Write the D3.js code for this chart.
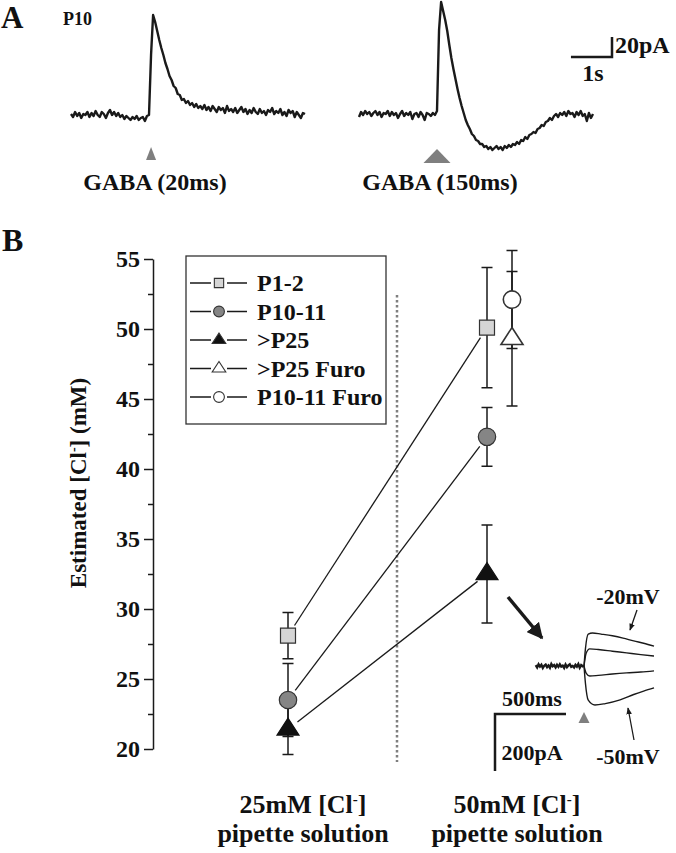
<!DOCTYPE html>
<html>
<head>
<meta charset="utf-8">
<script src="https://cdn.jsdelivr.net/npm/d3@7"></script>
<style>
  body { margin: 0; background: #fff; }
  svg text { font-family: "Liberation Serif", "Times New Roman", serif; font-weight: bold; fill: #111; }
</style>
</head>
<body>
<svg width="676" height="853"></svg>
<script>
// ---- panel A: GABA responses, sampled every 50 ms (pA)
const dt = 0.05;
const trace20ms = [1,-2,3,-1,2,-3,1,0,3,-2,2,-1,4,0,-2,3,1,-3,2,5,0,3,-1,2,-2,0,-4,-1,-3,-5,-2,-4,-1,-5,-3,-2,-6,-1,
  0,60,100,93,84,75,67,60,52,46,39,35,29,27,21,20,15,16,12,14,10,12,8,11,7,9,6,10,5,8,4,9,6,3,8,5,7,2,9,4,6,3,7,2,5,8,3,6,1,5,2,7,3,1,6,2,4,0,5,3,7,1,4,2,6,0,3,-1,5,2,4,-2,3,0,-3,2,1];
const trace150ms = [-2,3,0,4,1,3,-1,2,4,0,3,-2,2,1,4,-1,3,0,2,-3,1,4,-1,2,0,3,-4,1,2,-2,3,0,-5,2,1,-1,2,0,
  4,85,113,104,95,84,70,57,46,36,26,17,9,2,-5,-10,-14,-19,-21,-25,-26,-29,-29,-32,-31,-34,-32,-35,-33,-31,-34,-32,-35,-31,-33,-30,-32,-29,-30,-27,-29,-25,-26,-22,-24,-20,-19,-17,-18,-14,-13,-10,-11,-7,-6,-3,-5,-1,1,-2,2,0,3,-1,4,1,2,-2,3,0,4,-1,1,-6,2,-3,1];

// ---- panel B: estimated [Cl-] (mM), mean and error
const series = ['P1-2', 'P10-11', '>P25', '>P25 Furo', 'P10-11 Furo'];
const cl25 = [28.1, 23.5, 21.4, null, null];
const err25 = [1.65, 2.6, 1.8, null, null];
const cl50 = [50.1, 42.3, 32.5, 49.3, 52.1];
const err50 = [4.3, 2.1, 3.5, 4.8, 3.5];
const pipette = ['25mM', '50mM'];
const yTicks = [20, 25, 30, 35, 40, 45, 50, 55];
const yMinor = [22.5, 27.5, 32.5, 37.5, 42.5, 47.5, 52.5];

// ---- inset: current steps (ms, pA)
const insetBaseline = [3,-5,6,-2,4,-7,1,5,-4,2,-6,7,-1,3,-5,4,-3,6,-2,1,-7,5,-4,2,6,-3,0,-5,4,-2,7,-6,3,-1,2];
const stepMinus20 = [[0,0],[10,60],[30,112],[60,116],[120,112],[200,106],[275,98],[350,88],[420,80],[493,70]];
const stepB = [[0,0],[15,45],[40,60],[100,58],[200,52],[300,46],[400,40],[493,35]];
const stepC = [[0,0],[15,-25],[40,-35],[100,-33],[200,-28],[300,-24],[400,-21],[493,-17]];
const stepMinus50 = [[0,0],[10,-60],[30,-120],[77,-137],[150,-132],[254,-119],[350,-100],[420,-88],[493,-77]];

const svg = d3.select('svg');
const ink = '#1a1a1a';
const grey = '#7f7f7f';

// ================= panel A =================
svg.append('text').attr('x', 1).attr('y', 28).style('font-size', '31px').text('A');
svg.append('text').attr('x', 63).attr('y', 25).style('font-size', '18px').text('P10');

const yA = d3.scaleLinear().domain([0, 100]).range([115, 15]);
const xShort = d3.scaleLinear().domain([0, 5.7]).range([71, 305]);
const xLong = d3.scaleLinear().domain([0, 5.7]).range([359, 593]);

function drawTrace(values, xs) {
  svg.append('path').datum(values)
    .attr('d', d3.line().x((d, i) => xs(i * dt)).y(d => yA(d)))
    .attr('fill', 'none').attr('stroke', ink)
    .attr('stroke-width', 2.4).attr('stroke-linejoin', 'round');
}
drawTrace(trace20ms, xShort);
drawTrace(trace150ms, xLong);

function stimMark(cx, top, w, h) {
  svg.append('path')
    .attr('d', `M${cx},${top}L${cx + w / 2},${top + h}L${cx - w / 2},${top + h}Z`)
    .attr('fill', grey);
}
stimMark(xShort(1.95), 147, 10, 13);
stimMark(xLong(1.9), 149, 27, 14);

svg.append('text').attr('x', 155).attr('y', 190).attr('text-anchor', 'middle')
  .style('font-size', '24px').text('GABA (20ms)');
svg.append('text').attr('x', 440).attr('y', 190).attr('text-anchor', 'middle')
  .style('font-size', '24px').text('GABA (150ms)');

// scale bar 1 s / 20 pA
const sbX = 612, sbY = 57;
svg.append('path')
  .attr('d', `M${sbX - (xShort(1) - xShort(0))},${sbY}H${sbX}V${sbY - (yA(0) - yA(20))}`)
  .attr('fill', 'none').attr('stroke', ink).attr('stroke-width', 2.5);
svg.append('text').attr('x', 615).attr('y', 53).style('font-size', '24px').text('20pA');
svg.append('text').attr('x', 593).attr('y', 81).attr('text-anchor', 'middle').style('font-size', '24px').text('1s');

// ================= panel B =================
svg.append('text').attr('x', 2).attr('y', 251).style('font-size', '32px').text('B');

const axisX = 153;
const yB = d3.scaleLinear().domain([20, 55]).range([749, 259]);
const xB = d3.scaleLinear().domain([1, 2]).range([288, 487]);

const yAxis = svg.append('g')
  .attr('transform', `translate(${axisX},0)`)
  .call(d3.axisLeft(yB).tickValues(yTicks).tickSize(9).tickSizeOuter(0).tickPadding(4));
yAxis.attr('font-size', null).attr('font-family', null);
yAxis.selectAll('text').style('font-size', '24px');
yAxis.selectAll('line,path').attr('stroke', ink).attr('stroke-width', 1.5);

const yAxisMinor = svg.append('g')
  .attr('transform', `translate(${axisX},0)`)
  .call(d3.axisLeft(yB).tickValues(yMinor).tickSize(5).tickFormat(''));
yAxisMinor.select('.domain').remove();
yAxisMinor.selectAll('line').attr('stroke', ink).attr('stroke-width', 1.5);

// y title
const yTitle = svg.append('text')
  .attr('transform', 'translate(86,483) rotate(-90)')
  .attr('text-anchor', 'middle').style('font-size', '23px');
yTitle.append('tspan').text('Estimated [Cl');
yTitle.append('tspan').attr('dy', -8).style('font-size', '14px').text('-');
yTitle.append('tspan').attr('dy', 8).text('] (mM)');

// category labels
pipette.forEach((p, i) => {
  const cx = xB(i + 1) + (i === 0 ? 15 : 30);
  const t = svg.append('text').attr('x', cx).attr('y', 813)
    .attr('text-anchor', 'middle').style('font-size', '26px');
  t.append('tspan').text(p + ' [Cl');
  t.append('tspan').attr('dy', -9).style('font-size', '15px').text('-');
  t.append('tspan').attr('dy', 9).text(']');
  svg.append('text').attr('x', cx).attr('y', 842)
    .attr('text-anchor', 'middle').style('font-size', '26px').text('pipette solution');
});

// dotted divider
svg.append('line')
  .attr('x1', 397).attr('x2', 397).attr('y1', 295).attr('y2', 762)
  .attr('stroke', grey).attr('stroke-width', 2.5).attr('stroke-dasharray', '2.5,2.5');

// marker shapes
function triPath(w, h) {
  return `M0,${-2 * h / 3}L${w / 2},${h / 3}L${-w / 2},${h / 3}Z`;
}
function markerPath(i, big) {
  const s = big ? 1 : 0.62;
  if (i === 0) return d3.symbol(d3.symbolSquare, 225 * s * s)();
  if (i === 1 || i === 4) return d3.symbol(d3.symbolCircle, Math.PI * 8.7 * 8.7 * s * s)();
  return triPath(22 * s, 17 * s);
}
const fills = ['#d5d5d5', '#858585', '#111', '#fff', '#fff'];

// 50 mM column x per series (Furo data shifted right of the control column)
const col50 = series.map((s, i) => xB(2) + (i >= 3 ? 25 : 0));

// connecting lines, trimmed away from the markers
series.forEach((s, i) => {
  if (cl25[i] == null) return;
  const x1 = xB(1), y1 = yB(cl25[i]), x2 = col50[i], y2 = yB(cl50[i]);
  const len = Math.hypot(x2 - x1, y2 - y1), ux = (x2 - x1) / len, uy = (y2 - y1) / len;
  const gap = 12;
  svg.append('line')
    .attr('x1', x1 + ux * gap).attr('y1', y1 + uy * gap)
    .attr('x2', x2 - ux * gap).attr('y2', y2 - uy * gap)
    .attr('stroke', ink).attr('stroke-width', 1.3);
});

// error bars
function errBar(x, m, e) {
  const cap = 5.5;
  svg.append('path')
    .attr('d', `M${x},${yB(m + e)}V${yB(m - e)}M${x - cap},${yB(m + e)}H${x + cap}M${x - cap},${yB(m - e)}H${x + cap}`)
    .attr('fill', 'none').attr('stroke', ink).attr('stroke-width', 1.5);
}
series.forEach((s, i) => {
  if (cl25[i] != null) errBar(xB(1), cl25[i], err25[i]);
  errBar(col50[i], cl50[i], err50[i]);
});

// markers
series.forEach((s, i) => {
  const pts = [];
  if (cl25[i] != null) pts.push([xB(1), yB(cl25[i])]);
  pts.push([col50[i], yB(cl50[i])]);
  pts.forEach(p => {
    svg.append('path').attr('d', markerPath(i, true))
      .attr('transform', `translate(${p[0]},${p[1]})`)
      .attr('fill', fills[i]).attr('stroke', i === 2 ? '#111' : '#333')
      .attr('stroke-width', i >= 3 ? 1.6 : 1.2);
  });
});

// legend
svg.append('rect').attr('x', 186).attr('y', 256).attr('width', 200).attr('height', 168)
  .attr('fill', 'none').attr('stroke', '#333').attr('stroke-width', 1.3);
series.forEach((s, i) => {
  const y = 283 + i * 28.5;
  svg.append('path').attr('d', `M190,${y}H211M227,${y}H247`)
    .attr('stroke', ink).attr('stroke-width', 1.4);
  svg.append('path').attr('d', markerPath(i, false))
    .attr('transform', `translate(219,${y})`)
    .attr('fill', fills[i]).attr('stroke', '#333').attr('stroke-width', 1.1);
  svg.append('text').attr('x', 257).attr('y', y).attr('dy', '0.34em')
    .style('font-size', '24px').text(s);
});

// ================= inset =================
const xIn = d3.scaleLinear().domain([0, 500]).range([584, 655]);
const yIn = d3.scaleLinear().domain([0, 200]).range([666, 609]);

svg.append('path').datum(insetBaseline)
  .attr('d', d3.line().x((d, i) => xIn(-340 + i * 10)).y(d => yIn(d)))
  .attr('fill', 'none').attr('stroke', ink).attr('stroke-width', 2.4);
[stepMinus20, stepB, stepC, stepMinus50].forEach(tr => {
  svg.append('path').datum(tr)
    .attr('d', d3.line().x(d => xIn(d[0])).y(d => yIn(d[1])).curve(d3.curveMonotoneX))
    .attr('fill', 'none').attr('stroke', ink).attr('stroke-width', 1.4);
});
stimMark(xIn(0), 712, 11, 11);

// inset scale bar 500 ms / 200 pA
const isX = 495, isY = 714;
svg.append('path')
  .attr('d', `M${isX + (xIn(500) - xIn(0))},${isY}H${isX}V${isY + (yIn(0) - yIn(200))}`)
  .attr('fill', 'none').attr('stroke', ink).attr('stroke-width', 2.5);
svg.append('text').attr('x', 532).attr('y', 706).attr('text-anchor', 'middle').style('font-size', '22px').text('500ms');
svg.append('text').attr('x', 532).attr('y', 760).attr('text-anchor', 'middle').style('font-size', '22px').text('200pA');
svg.append('text').attr('x', 628).attr('y', 604).attr('text-anchor', 'middle').style('font-size', '22px').text('-20mV');
svg.append('text').attr('x', 628).attr('y', 764).attr('text-anchor', 'middle').style('font-size', '22px').text('-50mV');

// arrows
const defs = svg.append('defs');
defs.append('marker').attr('id', 'headS').attr('viewBox', '0 0 10 10').attr('refX', 9).attr('refY', 5)
  .attr('markerWidth', 7).attr('markerHeight', 7).attr('markerUnits', 'userSpaceOnUse').attr('orient', 'auto')
  .append('path').attr('d', 'M0,1L10,5L0,9Z').attr('fill', ink);
defs.append('marker').attr('id', 'headL').attr('viewBox', '0 0 10 10').attr('refX', 9).attr('refY', 5)
  .attr('markerWidth', 16).attr('markerHeight', 16).attr('markerUnits', 'userSpaceOnUse').attr('orient', 'auto')
  .append('path').attr('d', 'M0,0L10,5L0,10Z').attr('fill', ink);

svg.append('line').attr('x1', 637).attr('y1', 610).attr('x2', 630).attr('y2', 630)
  .attr('stroke', ink).attr('stroke-width', 1.3).attr('marker-end', 'url(#headS)');
svg.append('line').attr('x1', 634).attr('y1', 740).attr('x2', 628).attr('y2', 708)
  .attr('stroke', ink).attr('stroke-width', 1.3).attr('marker-end', 'url(#headS)');
svg.append('line').attr('x1', 508).attr('y1', 597).attr('x2', 542).attr('y2', 638)
  .attr('stroke', ink).attr('stroke-width', 3.5).attr('marker-end', 'url(#headL)');
</script>
</body>
</html>
